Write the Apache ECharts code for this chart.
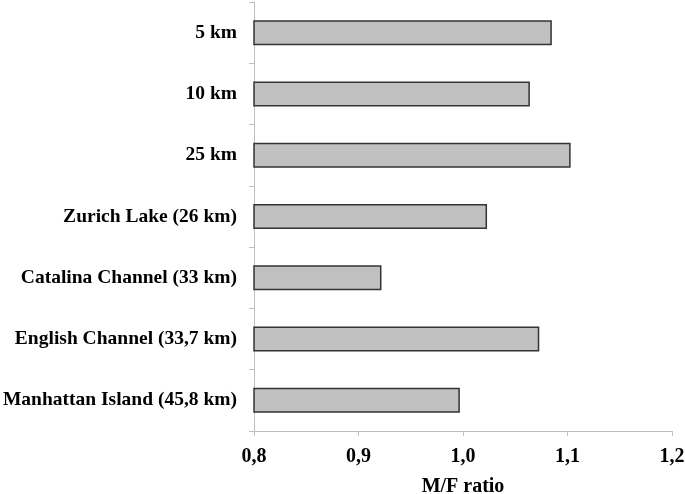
<!DOCTYPE html>
<html>
<head>
<meta charset="utf-8">
<script src="https://cdn.jsdelivr.net/npm/echarts@6/dist/echarts.min.js"></script>
<style>html,body{margin:0;padding:0;background:#fff}#c{width:685px;height:494px}</style>
</head>
<body>
<div id="c"></div>
<script>
var categories = ["5 km", "10 km", "25 km", "Zurich Lake (26 km)", "Catalina Channel (33 km)", "English Channel (33,7 km)", "Manhattan Island (45,8 km)"];
var ratios = [1.085, 1.064, 1.103, 1.023, 0.922, 1.073, 0.997];
var axisTitle = "M/F ratio";

var chart = echarts.init(document.getElementById('c'), null, {renderer: 'canvas'});
var font = '"Liberation Serif", "Times New Roman", serif';
chart.setOption({
  animation: false,
  grid: {left: 254, right: 13, top: 2, bottom: 63, containLabel: false, outerBoundsMode: 'none'},
  xAxis: {
    type: 'value', min: 0.8, max: 1.2, interval: 0.1,
    name: axisTitle, nameLocation: 'middle', nameGap: 46,
    nameTextStyle: {fontFamily: font, fontWeight: 'bold', fontSize: 20, color: '#000'},
    axisLine: {show: true, lineStyle: {color: '#bfbfbf', width: 1}},
    axisTick: {show: true, length: 5, lineStyle: {color: '#bfbfbf'}},
    splitLine: {show: false},
    axisLabel: {
      margin: 16, fontFamily: font, fontWeight: 'bold', fontSize: 20, color: '#000',
      formatter: function (v) { return v.toFixed(1).replace('.', ','); }
    }
  },
  yAxis: {
    type: 'category', data: categories, inverse: true,
    axisLine: {show: true, lineStyle: {color: '#bfbfbf', width: 1}},
    axisTick: {show: true, length: 5, alignWithLabel: false, lineStyle: {color: '#bfbfbf'}},
    axisLabel: {margin: 17, fontFamily: font, fontWeight: 'bold', fontSize: 19.5, color: '#000'}
  },
  series: [{
    type: 'bar', data: ratios, barWidth: 25,
    itemStyle: {color: '#c0c0c0', borderColor: '#333', borderWidth: 1.5}
  }]
});
</script>
</body>
</html>
